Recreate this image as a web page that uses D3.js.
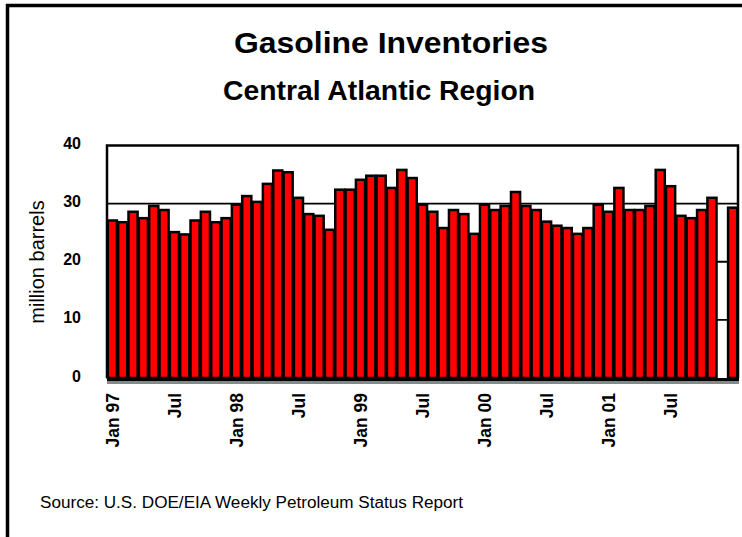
<!DOCTYPE html>
<html>
<head>
<meta charset="utf-8">
<script src="https://cdn.jsdelivr.net/npm/d3@7"></script>
<style>
  body { margin: 0; background: #fff; }
  text { font-family: "Liberation Sans", Arial, sans-serif; }
</style>
</head>
<body>
<div class="canvas"></div>
<script>
// monthly gasoline stocks, Jan 1997 - Jan 2002 (Dec 01 not reported)
const years = ['97', '98', '99', '00', '01', '02'];
const monthNames = ['Jan','Feb','Mar','Apr','May','Jun','Jul','Aug','Sep','Oct','Nov','Dec'];
const months = [];
years.forEach(y => monthNames.forEach(m => months.push(m + ' ' + y)));
months.splice(61);

const values = [
  27.1, 26.8, 28.6, 27.5, 29.6, 28.9, 25.1, 24.7, 27.1, 28.6, 26.8, 27.5,
  29.8, 31.3, 30.3, 33.4, 35.7, 35.4, 31.0, 28.2, 27.9, 25.5, 32.4, 32.4,
  34.1, 34.8, 34.8, 32.7, 35.8, 34.4, 29.8, 28.6, 25.8, 28.9, 28.2, 24.8,
  29.8, 28.9, 29.6, 32.0, 29.6, 28.9, 26.9, 26.2, 25.8, 24.8, 25.8, 29.8,
  28.6, 32.7, 28.9, 28.9, 29.6, 35.8, 33.0, 27.9, 27.5, 28.9, 31.0, null,
  29.3
];

const tickMonths = ['Jan 97','Jul 97','Jan 98','Jul 98','Jan 99','Jul 99','Jan 00','Jul 00','Jan 01','Jul 01'];
const tickLabels = ['Jan 97','Jul','Jan 98','Jul','Jan 99','Jul','Jan 00','Jul','Jan 01','Jul'];
const yTicks = [0, 10, 20, 30, 40];

const data = months.map((m, i) => ({ month: m, value: values[i] }));

const dims = { width: 742, height: 537 };
const plot = { left: 107, right: 738, top: 145.5, bottom: 378 };

const svg = d3.select('.canvas')
    .append('svg')
    .attr('width', dims.width)
    .attr('height', dims.height);

// outer frame (runs off the right and bottom edges)
svg.append('rect')
    .attr('x', 7.5).attr('y', 5.5)
    .attr('width', 780).attr('height', 580)
    .attr('fill', 'none')
    .attr('stroke', '#000')
    .attr('stroke-width', 3.5);

svg.append('text')
    .attr('x', 234).attr('y', 53)
    .attr('textLength', 314).attr('lengthAdjust', 'spacingAndGlyphs')
    .attr('font-size', 30).attr('font-weight', 'bold')
    .text('Gasoline Inventories');

svg.append('text')
    .attr('x', 223).attr('y', 100)
    .attr('textLength', 312).attr('lengthAdjust', 'spacingAndGlyphs')
    .attr('font-size', 27).attr('font-weight', 'bold')
    .text('Central Atlantic Region');

const x = d3.scaleBand()
    .domain(months)
    .range([plot.left, plot.right])
    .paddingInner(0.12)
    .paddingOuter(0.08);

const y = d3.scaleLinear()
    .domain([0, 40])
    .range([plot.bottom, plot.top]);

// gridlines
svg.append('g')
    .selectAll('line')
    .data(yTicks.filter(t => t > 0 && t < 40))
    .enter().append('line')
    .attr('x1', plot.left).attr('x2', plot.right)
    .attr('y1', d => y(d)).attr('y2', d => y(d))
    .attr('stroke', '#000')
    .attr('stroke-width', 1.8);

// plot border
svg.append('path')
    .attr('d', `M${plot.left},${plot.bottom} V${plot.top} H${plot.right} V${plot.bottom}`)
    .attr('fill', 'none')
    .attr('stroke', '#000')
    .attr('stroke-width', 2.5);

// bars
svg.append('g')
    .selectAll('rect')
    .data(data.filter(d => d.value != null))
    .enter().append('rect')
    .attr('x', d => x(d.month))
    .attr('width', x.bandwidth())
    .attr('y', d => y(d.value))
    .attr('height', d => y(0) - y(d.value))
    .attr('fill', '#ff0000')
    .attr('stroke', '#000')
    .attr('stroke-width', 2.5);

// baseline with grey shadow
svg.append('line')
    .attr('x1', plot.left).attr('x2', plot.right + 1)
    .attr('y1', plot.bottom + 1.5).attr('y2', plot.bottom + 1.5)
    .attr('stroke', '#000').attr('stroke-width', 3);
svg.append('line')
    .attr('x1', plot.left).attr('x2', plot.right + 1)
    .attr('y1', plot.bottom + 4.5).attr('y2', plot.bottom + 4.5)
    .attr('stroke', '#888').attr('stroke-width', 3);

// y tick labels
svg.append('g')
    .selectAll('text')
    .data(yTicks)
    .enter().append('text')
    .attr('x', 81)
    .attr('y', d => y(d) - 2)
    .attr('dy', '0.35em')
    .attr('text-anchor', 'end')
    .attr('font-size', 16)
    .attr('font-weight', 'bold')
    .text(d => d);

svg.append('text')
    .attr('transform', `translate(44, 262) rotate(-90)`)
    .attr('text-anchor', 'middle')
    .attr('font-size', 20)
    .text('million barrels');

// x tick labels
svg.append('g')
    .selectAll('text')
    .data(tickMonths)
    .enter().append('text')
    .attr('transform', d => `translate(${x(d) + x.bandwidth() / 2 + 6.5}, 393) rotate(-90)`)
    .attr('text-anchor', 'end')
    .attr('font-size', 17.5)
    .attr('font-weight', 'bold')
    .text((d, i) => tickLabels[i]);

svg.append('text')
    .attr('x', 40).attr('y', 508)
    .attr('textLength', 423).attr('lengthAdjust', 'spacingAndGlyphs')
    .attr('font-size', 16)
    .text('Source: U.S. DOE/EIA Weekly Petroleum Status Report');
</script>
</body>
</html>
